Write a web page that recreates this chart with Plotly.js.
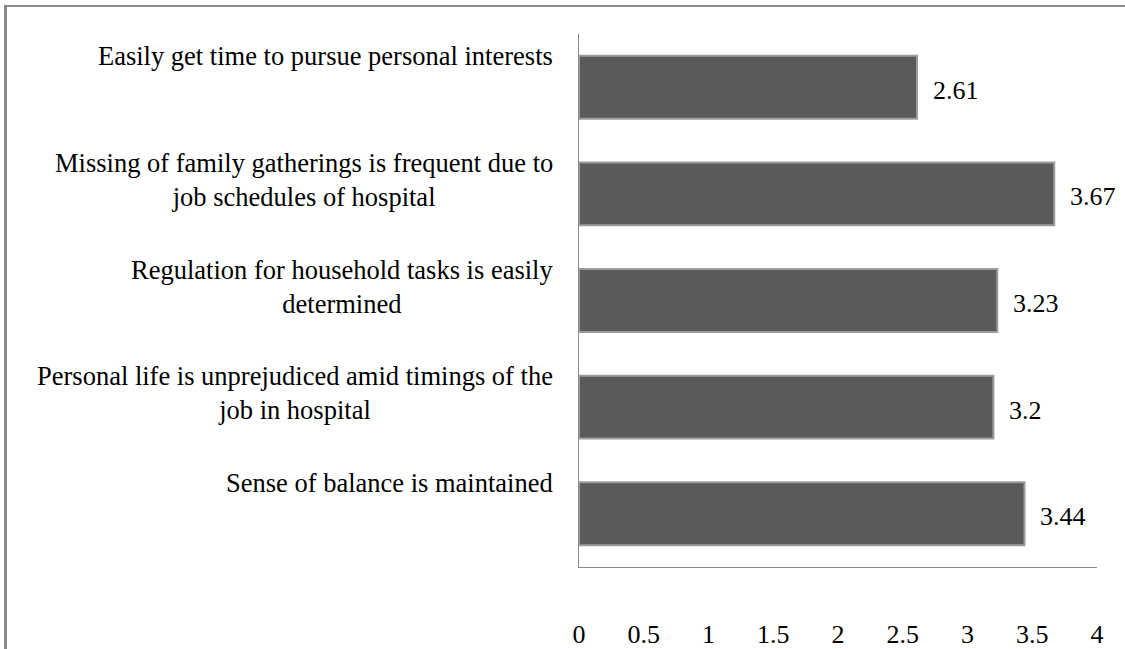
<!DOCTYPE html>
<html>
<head>
<meta charset="utf-8">
<script src="https://cdn.plot.ly/plotly-3.0.1.min.js"></script>
<style>
  html, body { margin: 0; padding: 0; background: #fff; }
  #wrap { position: relative; width: 1125px; height: 649px; overflow: hidden; }
  #chart { width: 1125px; height: 649px; }
  #frame { position: absolute; left: 4px; top: 5px; width: 1200px; height: 700px;
           border-left: 3px solid #8a8a8a; border-top: 2px solid #8a8a8a; pointer-events: none; }
</style>
</head>
<body>
<div id="wrap">
  <div id="chart"></div>
  <div id="frame"></div>
</div>
<script>
// Categories listed from top to bottom as in the picture
var categories = [
  "Easily get time to pursue personal interests",
  "Missing of family gatherings is frequent due to<br>job schedules of hospital",
  "Regulation for household tasks is easily<br>determined",
  "Personal life is unprejudiced amid timings of the<br>job in hospital",
  "Sense of balance is maintained"
];
var values = [2.61, 3.67, 3.23, 3.2, 3.44];
var valueLabels = ["2.61", "3.67", "3.23", "3.2", "3.44"];
var tickVals = [0, 0.5, 1, 1.5, 2, 2.5, 3, 3.5, 4];
var tickText = ["0", "0.5", "1", "1.5", "2", "2.5", "3", "3.5", "4"];

var FONT = "Liberation Serif";
var ids = categories.map(function (c, i) { return "c" + i; });

var trace = {
  type: "bar",
  orientation: "h",
  x: values,
  y: ids,
  marker: { color: "#5a5a5a", line: { color: "#9c9c9c", width: 2 } },
  hoverinfo: "x"
};

var annotations = [];
categories.forEach(function (c, i) {
  annotations.push({
    xref: "paper", yref: "y", x: 0, y: ids[i],
    text: c, showarrow: false, xanchor: "right", yanchor: "top",
    align: "center", xshift: -24, yshift: 48,
    font: { family: FONT, size: 26.5, color: "#000000" }
  });
  annotations.push({
    xref: "x", yref: "y", x: values[i], y: ids[i],
    text: valueLabels[i], showarrow: false, xanchor: "left", yanchor: "middle",
    xshift: 14, yshift: -3,
    font: { family: FONT, size: 26, color: "#000000" }
  });
});

var layout = {
  width: 1125, height: 649,
  margin: { l: 579, r: 28, t: 34, b: 82, pad: 0 },
  paper_bgcolor: "#ffffff", plot_bgcolor: "#ffffff",
  showlegend: false,
  bargap: 0.41,
  font: { family: FONT, size: 26, color: "#000000" },
  xaxis: {
    range: [0, 4], tickvals: tickVals, ticktext: tickText,
    showgrid: false, zeroline: false, showline: true, linecolor: "#8a8a8a", linewidth: 1,
    ticks: "", ticklabelstandoff: 44,
    tickfont: { family: FONT, size: 26, color: "#000000" },
    fixedrange: true
  },
  yaxis: {
    categoryorder: "array", categoryarray: ids,
    autorange: "reversed",
    showticklabels: false, showgrid: false, zeroline: false,
    showline: true, linecolor: "#8a8a8a", linewidth: 1, ticks: "",
    fixedrange: true
  },
  annotations: annotations
};

function draw() {
  Plotly.newPlot("chart", [trace], layout, { displayModeBar: false });
}
if (document.fonts && document.fonts.ready) {
  document.fonts.ready.then(draw);
} else {
  draw();
}
</script>
</body>
</html>
